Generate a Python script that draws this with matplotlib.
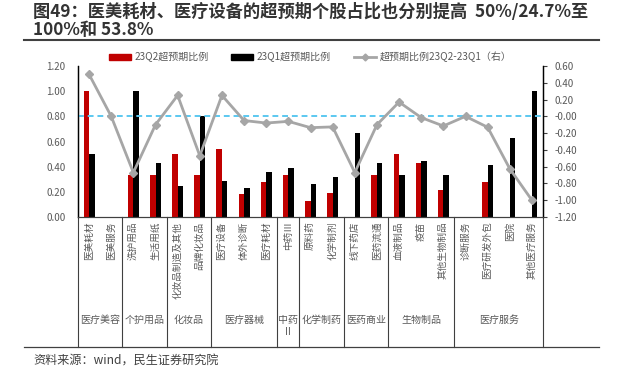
import matplotlib
matplotlib.use("Agg")
import matplotlib.pyplot as plt
from matplotlib.lines import Line2D
from matplotlib.patches import Patch
import matplotlib.transforms as mtransforms
import numpy as np

plt.rcParams['font.family'] = ['Noto Sans CJK SC', 'DejaVu Sans']

categories = ["医美耗材", "医美服务", "洗护用品", "生活用纸", "化妆品制造及其他", "品牌化妆品",
              "医疗设备", "体外诊断", "医疗耗材", "中药Ⅲ", "原料药", "化学制剂",
              "线下药店", "医药流通", "血液制品", "疫苗", "其他生物制品",
              "诊断服务", "医疗研发外包", "医院", "其他医疗服务"]
q2_ratio = [1.00, 0.00, 0.33, 0.33, 0.50, 0.33, 0.54, 0.18, 0.28, 0.33, 0.13, 0.19,
            0.00, 0.33, 0.50, 0.43, 0.215, 0.00, 0.28, 0.00, 0.00]
q1_ratio = [0.50, 0.00, 1.00, 0.43, 0.25, 0.80, 0.29, 0.23, 0.36, 0.39, 0.265, 0.316,
            0.67, 0.43, 0.33, 0.445, 0.33, 0.00, 0.41, 0.625, 1.00]
diff_ratio = [0.50, 0.00, -0.67, -0.10, 0.25, -0.47, 0.25, -0.05, -0.08, -0.06, -0.135, -0.126,
              -0.67, -0.10, 0.17, -0.015, -0.115, 0.00, -0.13, -0.625, -1.00]
groups = ["医疗美容", "个护用品", "化妆品", "医疗器械", "中药\nⅡ", "化学制药", "医药商业", "生物制品", "医疗服务"]
group_sizes = [2, 2, 2, 3, 1, 2, 2, 3, 4]

W, H = 619, 371
fig = plt.figure(figsize=(W / 100, H / 100), dpi=100)
ax = fig.add_axes([78 / W, 1 - 217 / H, (543 - 78) / W, (217 - 66) / H])
ax2 = ax.twinx()

x = np.arange(len(categories))
bw = 0.25
ax.bar(x - bw / 2, q2_ratio, bw, color="#C00000", zorder=2)
ax.bar(x + bw / 2, q1_ratio, bw, color="#000000", zorder=2)
ax.set_xlim(-0.5, len(categories) - 0.5)
ax.set_ylim(0, 1.2)
ax.set_yticks(np.arange(0, 1.21, 0.2))
ax.set_yticklabels([f"{v:.2f}" for v in np.arange(0, 1.21, 0.2)])
ax.set_xticks([])
ax.tick_params(axis="y", length=0, pad=9, labelsize=7, labelcolor="#595959")

ax2.axhline(0, color="#5BC8F0", lw=1.4, ls=(0, (3, 2)), zorder=1)
ax2.plot(x, diff_ratio, color="#A6A6A6", lw=2.0, marker="D", ms=4.5, zorder=3)
ax2.set_ylim(-1.2, 0.6)
ax2.set_yticks(np.arange(-1.2, 0.61, 0.2))
ax2.set_yticklabels([f"{v:.2f}" for v in np.arange(-1.2, 0.61, 0.2)])
ax2.tick_params(axis="y", length=3, width=0.8, pad=5, labelsize=7, labelcolor="#595959", color="#404040")

for a in (ax, ax2):
    a.spines["top"].set_visible(False)
    a.spines["left"].set_color("#000000")
    a.spines["right"].set_color("#000000")
    a.spines["bottom"].set_color("#404040")
    a.spines["left"].set_linewidth(0.9)
    a.spines["right"].set_linewidth(0.9)
    a.spines["bottom"].set_linewidth(0.8)

# category table under the axis
trans = mtransforms.blended_transform_factory(ax.transData, ax.transAxes)
table_bottom = (217 - 347) / (217 - 66)
for i, name in enumerate(categories):
    ax.text(i, -0.03, name, rotation=90, ha="center", va="top", fontsize=6.9,
            color="#595959", transform=trans)

bounds = np.concatenate([[0], np.cumsum(group_sizes)]) - 0.5
for b in bounds:
    ax.plot([b, b], [0, table_bottom], color="#404040", lw=0.8, transform=trans, clip_on=False)
for g, lo, hi in zip(groups, bounds[:-1], bounds[1:]):
    ax.text((lo + hi) / 2, (217 - 315) / (217 - 66), g, ha="center", va="top", fontsize=7.2,
            color="#595959", transform=trans, linespacing=1.3)

fig.add_artist(Line2D([24 / W, 599 / W], [1 - 347 / H, 1 - 347 / H], color="#404040", lw=0.9))

# title and rule
fig.text(33 / W, 1 - 12 / H, "图49：医美耗材、医疗设备的超预期个股占比也分别提高  50%/24.7%至",
         fontsize=12.4, fontweight="bold", color="#333333", va="center")
fig.text(33 / W, 1 - 30 / H, "100%和 53.8%", fontsize=12.4, fontweight="bold", color="#333333", va="center")
fig.add_artist(Line2D([24 / W, 599 / W], [1 - 40 / H, 1 - 40 / H], color="#404040", lw=1.5))

handles = [Patch(color="#C00000"), Patch(color="#000000"),
           Line2D([], [], color="#A6A6A6", lw=2.0, marker="D", ms=3.5)]
labels = ["23Q2超预期比例", "23Q1超预期比例", "超预期比例23Q2-23Q1（右）"]
fig.legend(handles, labels, loc="center", bbox_to_anchor=(310 / W, 1 - 57 / H), ncol=3,
           frameon=False, fontsize=7.2, handlelength=2.2, handleheight=0.55,
           handletextpad=0.35, columnspacing=2.3, labelcolor="#595959")

fig.text(33 / W, 1 - 361 / H, "资料来源：wind，民生证券研究院", fontsize=8.7, color="#404040", va="center")

fig.savefig("out.png", dpi=100)
